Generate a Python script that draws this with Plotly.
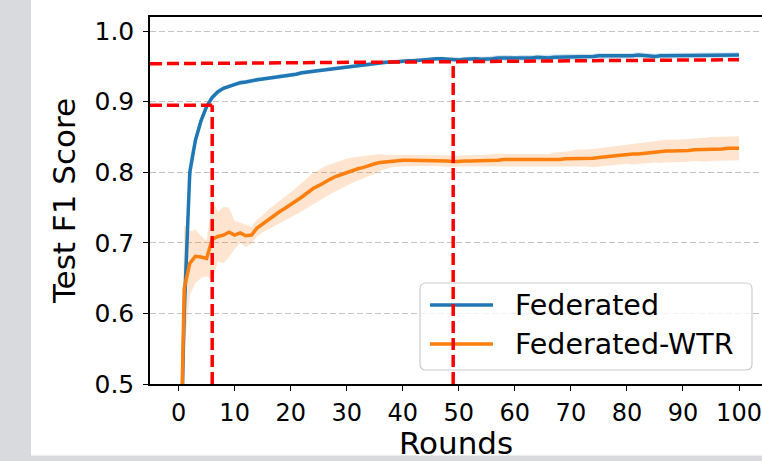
import plotly.graph_objects as go

# ---------------- data ----------------
rounds = list(range(101))

fed_mean = [
    0.26, 0.60, 0.80, 0.845, 0.873, 0.893, 0.906, 0.914, 0.919, 0.922,
    0.925, 0.927, 0.928, 0.930, 0.931, 0.932, 0.933, 0.935, 0.936, 0.937,
    0.938, 0.939, 0.941, 0.942, 0.943, 0.945, 0.946, 0.946, 0.948, 0.949,
    0.950, 0.951, 0.952, 0.953, 0.954, 0.954, 0.955, 0.956, 0.956, 0.957,
    0.957, 0.958, 0.958, 0.959, 0.959, 0.960, 0.961, 0.961, 0.960, 0.960,
    0.959, 0.960, 0.961, 0.961, 0.960, 0.960, 0.961, 0.962, 0.962, 0.962,
    0.961, 0.962, 0.962, 0.962, 0.963, 0.962, 0.962, 0.963, 0.963, 0.964,
    0.964, 0.963, 0.963, 0.964, 0.964, 0.965, 0.965, 0.964, 0.965, 0.965,
    0.965, 0.965, 0.966, 0.965, 0.964, 0.964, 0.965, 0.965, 0.966, 0.965,
    0.965, 0.966, 0.966, 0.965, 0.966, 0.966, 0.965, 0.966, 0.966, 0.965,
    0.966,
]
fed_std = [
    0.02, 0.03, 0.02, 0.01, 0.006, 0.005, 0.004, 0.004, 0.003, 0.003,
    0.003, 0.003, 0.003, 0.003, 0.003, 0.003, 0.003, 0.003, 0.003, 0.003,
    0.003, 0.003, 0.003, 0.003, 0.003, 0.003, 0.003, 0.003, 0.003, 0.003,
    0.003, 0.003, 0.003, 0.003, 0.003, 0.003, 0.003, 0.003, 0.003, 0.003,
    0.003, 0.003, 0.003, 0.003, 0.003, 0.003, 0.003, 0.003, 0.003, 0.003,
    0.003, 0.003, 0.003, 0.003, 0.003, 0.004, 0.004, 0.004, 0.004, 0.004,
    0.004, 0.004, 0.004, 0.004, 0.004, 0.004, 0.004, 0.004, 0.004, 0.004,
    0.004, 0.004, 0.004, 0.004, 0.004, 0.004, 0.004, 0.004, 0.004, 0.004,
    0.004, 0.004, 0.004, 0.004, 0.004, 0.004, 0.004, 0.004, 0.004, 0.004,
    0.004, 0.004, 0.004, 0.004, 0.004, 0.004, 0.004, 0.004, 0.004, 0.004,
    0.004,
]

wtr_mean = [
    0.24, 0.635, 0.671, 0.681, 0.680, 0.678, 0.705, 0.709, 0.711, 0.715,
    0.711, 0.714, 0.710, 0.711, 0.721, 0.727, 0.733, 0.738, 0.744, 0.749,
    0.754, 0.759, 0.765, 0.771, 0.777, 0.781, 0.786, 0.790, 0.794, 0.797,
    0.800, 0.803, 0.805, 0.807, 0.810, 0.812, 0.814, 0.815, 0.816, 0.816,
    0.817, 0.817, 0.817, 0.817, 0.817, 0.817, 0.817, 0.816, 0.816, 0.815,
    0.816, 0.816, 0.816, 0.816, 0.816, 0.817, 0.817, 0.817, 0.818, 0.818,
    0.818, 0.818, 0.817, 0.817, 0.817, 0.817, 0.817, 0.818, 0.818, 0.819,
    0.819, 0.820, 0.820, 0.820, 0.820, 0.821, 0.822, 0.823, 0.824, 0.825,
    0.826, 0.826, 0.826, 0.827, 0.828, 0.829, 0.829, 0.830, 0.830, 0.830,
    0.831, 0.831, 0.832, 0.832, 0.832, 0.833, 0.833, 0.833, 0.834, 0.834,
    0.834,
]
wtr_std = [
    0.02, 0.09, 0.045, 0.038, 0.03, 0.025, 0.058, 0.035, 0.04, 0.035,
    0.02, 0.014, 0.016, 0.012, 0.012, 0.012, 0.014, 0.015, 0.016, 0.017,
    0.018, 0.019, 0.020, 0.021, 0.022, 0.022, 0.022, 0.021, 0.020, 0.020,
    0.019, 0.018, 0.017, 0.016, 0.015, 0.014, 0.012, 0.010, 0.009, 0.008,
    0.008, 0.008, 0.008, 0.008, 0.008, 0.008, 0.008, 0.008, 0.008, 0.008,
    0.008, 0.008, 0.008, 0.008, 0.008, 0.008, 0.009, 0.009, 0.009, 0.009,
    0.009, 0.009, 0.009, 0.009, 0.009, 0.009, 0.009, 0.010, 0.010, 0.010,
    0.011, 0.012, 0.012, 0.012, 0.013, 0.013, 0.013, 0.014, 0.014, 0.014,
    0.014, 0.015, 0.015, 0.015, 0.015, 0.015, 0.016, 0.016, 0.016, 0.016,
    0.016, 0.016, 0.016, 0.016, 0.017, 0.017, 0.017, 0.017, 0.017, 0.017,
    0.017,
]

series_names = ["Federated", "Federated-WTR"]
line_colors = ["#1f77b4", "#ff7f0e"]
band_colors = ["rgba(31,119,180,0.2)", "rgba(255,127,14,0.2)"]

x_ticks = [0, 10, 20, 30, 40, 50, 60, 70, 80, 90, 100]
y_ticks = [0.5, 0.6, 0.7, 0.8, 0.9, 1.0]
y_tick_labels = ["0.5", "0.6", "0.7", "0.8", "0.9", "1.0"]

# red reference lines (round, score)
ref_upper_y = [0.9538, 0.9595]   # sloped horizontal line: left edge -> round 100
ref_upper_x = 49                 # vertical marker round
ref_upper_vtop = 0.957
ref_lower_y = 0.895
ref_lower_x = 6

# ---------------- layout geometry ----------------
W, H = 762, 461
ML, MR, MT, MB = 150, 0, 17, 77
X_RANGE = [-5.1, 104.1]
Y_RANGE = [0.5, 1.02]
PW, PH = W - ML - MR, H - MT - MB


def pxx(x):
    return (x - ML) / PW


def pxy(y):
    return (H - MB - y) / PH


FONT = "DejaVu Sans"

fig = go.Figure()

series = [(fed_mean, fed_std), (wtr_mean, wtr_std)]
for (m, s), name, lc, bc in zip(series, series_names, line_colors, band_colors):
    upper = [a + b for a, b in zip(m, s)]
    lower = [a - b for a, b in zip(m, s)]
    fig.add_trace(go.Scatter(
        x=rounds + rounds[::-1], y=upper + lower[::-1],
        fill="toself", fillcolor=bc, line=dict(width=0),
        mode="lines", hoverinfo="skip", showlegend=False,
    ))
for (m, s), name, lc in zip(series, series_names, line_colors):
    fig.add_trace(go.Scatter(
        x=rounds, y=m, mode="lines", name=name,
        line=dict(color=lc, width=3.5), showlegend=False,
    ))

shapes = []
# white panel over grey page background
shapes.append(dict(type="rect", xref="paper", yref="paper",
                   x0=pxx(31), x1=pxx(762), y0=pxy(455.5), y1=pxy(0),
                   fillcolor="white", line=dict(width=0), layer="below"))

# legend box (rounded) drawn manually
lx0, lx1, ly0, ly1, rr = 420, 752, 283, 370, 6


def P(x, y):
    return f"{pxx(x):.5f},{pxy(y):.5f}"


path = (f"M {P(lx0 + rr, ly0)} L {P(lx1 - rr, ly0)} Q {P(lx1, ly0)} {P(lx1, ly0 + rr)} "
        f"L {P(lx1, ly1 - rr)} Q {P(lx1, ly1)} {P(lx1 - rr, ly1)} "
        f"L {P(lx0 + rr, ly1)} Q {P(lx0, ly1)} {P(lx0, ly1 - rr)} "
        f"L {P(lx0, ly0 + rr)} Q {P(lx0, ly0)} {P(lx0 + rr, ly0)} Z")
shapes.append(dict(type="path", xref="paper", yref="paper", path=path,
                   fillcolor="rgba(255,255,255,0.8)",
                   line=dict(color="#cccccc", width=1.2), layer="above"))

annotations = []
leg_rows = [305, 344]
for name, lc, yy in zip(series_names, line_colors, leg_rows):
    shapes.append(dict(type="line", xref="paper", yref="paper",
                       x0=pxx(430), x1=pxx(493), y0=pxy(yy), y1=pxy(yy),
                       line=dict(color=lc, width=3.5), layer="above"))
    annotations.append(dict(xref="paper", yref="paper", x=pxx(513), y=pxy(yy),
                            text=name, showarrow=False, xanchor="left",
                            yanchor="middle",
                            font=dict(family=FONT, size=28.5, color="black")))

red = dict(color="#ff0000", width=3.5, dash="12px,5px")
shapes += [
    dict(type="line", xref="x", yref="y", x0=X_RANGE[0], x1=100,
         y0=ref_upper_y[0], y1=ref_upper_y[1], line=red, layer="above"),
    dict(type="line", xref="x", yref="y", x0=ref_upper_x, x1=ref_upper_x,
         y0=Y_RANGE[0], y1=ref_upper_vtop, line=red, layer="above"),
    dict(type="line", xref="x", yref="y", x0=X_RANGE[0], x1=ref_lower_x,
         y0=ref_lower_y, y1=ref_lower_y, line=red, layer="above"),
    dict(type="line", xref="x", yref="y", x0=ref_lower_x, x1=ref_lower_x,
         y0=Y_RANGE[0], y1=ref_lower_y, line=red, layer="above"),
]

fig.update_layout(
    width=W, height=H,
    margin=dict(l=ML, r=MR, t=MT, b=MB, pad=0),
    paper_bgcolor="#d9dadd",
    plot_bgcolor="white",
    shapes=shapes,
    annotations=annotations,
    showlegend=False,
    font=dict(family=FONT, color="black"),
    xaxis=dict(
        range=X_RANGE, tickvals=x_ticks, ticks="outside", ticklen=5,
        tickwidth=1.3, tickcolor="black", showline=True, linecolor="black",
        linewidth=1.5, mirror=True, showgrid=False, zeroline=False,
        tickfont=dict(family=FONT, size=24, color="black"),
        ticklabelstandoff=1,
        title=dict(text="Rounds", font=dict(family=FONT, size=31, color="black"),
                   standoff=0),
    ),
    yaxis=dict(
        range=Y_RANGE, tickvals=y_ticks, ticktext=y_tick_labels, ticks="outside",
        ticklen=5, tickwidth=1.3, tickcolor="black", showline=True,
        linecolor="black", linewidth=1.5, mirror=False, showgrid=True,
        gridcolor="#c4c4c4", gridwidth=1.2, griddash="6px,3px", zeroline=False,
        tickfont=dict(family=FONT, size=25, color="black"),
        ticklabelstandoff=4,
        title=dict(text="Test F1 Score", font=dict(family=FONT, size=31, color="black"),
                   standoff=10),
    ),
)

fig.write_html(
    "out.html",
    config={"displayModeBar": False},
    post_script="document.body.style.margin='0px';document.body.style.overflow='hidden';",
)
